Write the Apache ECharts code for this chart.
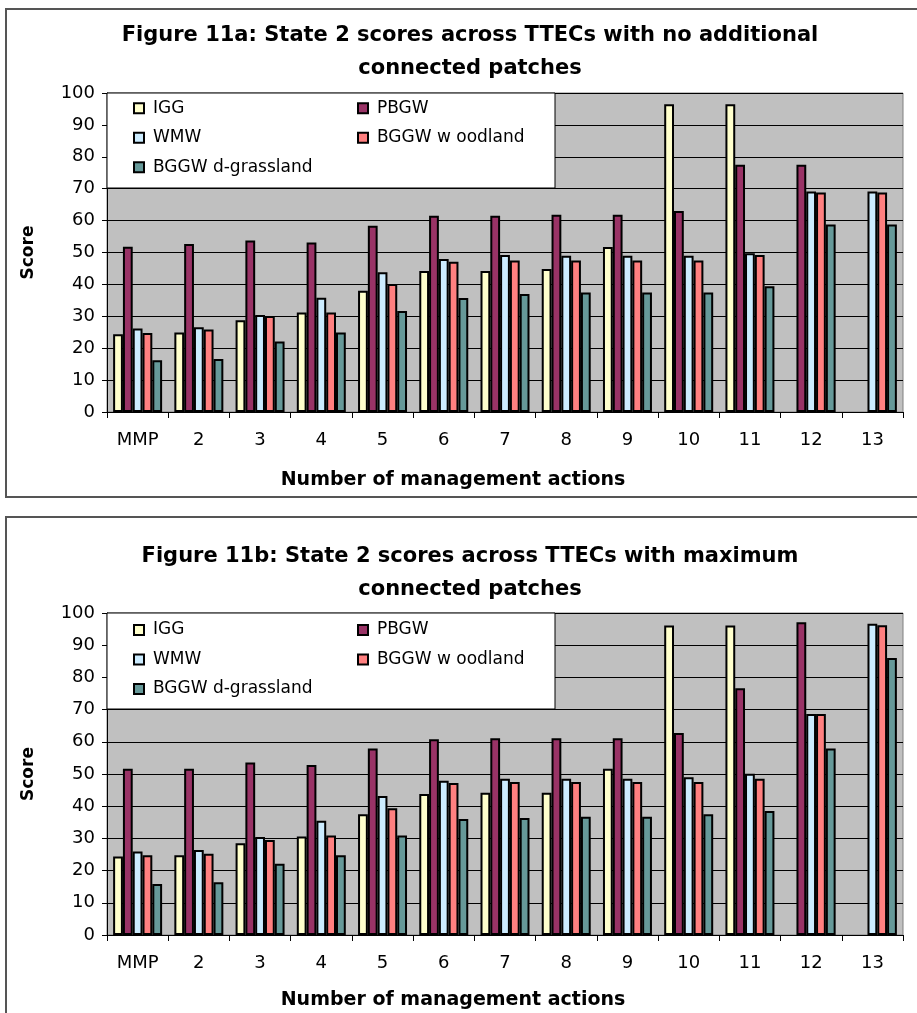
<!DOCTYPE html>
<html>
<head>
<meta charset="utf-8">
<script src="https://cdn.jsdelivr.net/npm/echarts@6/dist/echarts.min.js"></script>
<style>
html,body{margin:0;padding:0;background:#fff;}
#chart{width:917px;height:1013px;}
</style>
</head>
<body>
<div id="chart"></div>
<script>
// ---- Data ----
const categories = ['MMP','2','3','4','5','6','7','8','9','10','11','12','13'];
const seriesNames = ['IGG','PBGW','WMW','BGGW w oodland','BGGW d-grassland'];
const seriesColors = ['#FFFFCC','#993366','#CCECFF','#FF8080','#669999'];

// Figure 11a: no additional connected patches
const iggA   = [24.4, 24.9, 28.8, 31.2, 38.0, 44.2, 44.2, 44.8, 51.7, 96.5, 96.5, null, null];
const pbgwA  = [51.8, 52.7, 53.8, 53.1, 58.4, 61.5, 61.5, 61.8, 61.8, 63.0, 77.5, 77.5, null];
const wmwA   = [26.2, 26.6, 30.4, 35.8, 43.8, 48.0, 49.2, 49.0, 49.0, 49.0, 49.8, 69.1, 69.1];
const woodA  = [24.8, 25.9, 30.1, 31.2, 40.1, 47.1, 47.5, 47.5, 47.5, 47.5, 49.2, 68.8, 68.8];
const grassA = [16.2, 16.6, 22.1, 24.9, 31.7, 35.7, 37.0, 37.5, 37.5, 37.5, 39.4, 58.8, 58.8];

// Figure 11b: maximum connected patches
const iggB   = [24.4, 24.8, 28.5, 30.6, 37.5, 43.8, 44.2, 44.2, 51.6, 96.1, 96.1, null, null];
const pbgwB  = [51.6, 51.6, 53.6, 52.8, 57.9, 60.8, 61.1, 61.1, 61.1, 62.7, 76.6, 97.1, null];
const wmwB   = [25.9, 26.4, 30.4, 35.5, 43.2, 47.9, 48.5, 48.5, 48.5, 49.0, 50.1, 68.6, 96.7];
const woodB  = [24.8, 25.2, 29.5, 30.9, 39.4, 47.2, 47.5, 47.5, 47.5, 47.5, 48.5, 68.6, 96.2];
const grassB = [15.8, 16.4, 22.1, 24.8, 30.9, 36.0, 36.3, 36.7, 36.7, 37.5, 38.5, 57.9, 86.0];

const titleA = 'Figure 11a: State 2 scores across TTECs with no additional\nconnected patches';
const titleB = 'Figure 11b: State 2 scores across TTECs with maximum\nconnected patches';
const xName = 'Number of management actions';
const yName = 'Score';

// ---- Build ----
const FONT = 'DejaVu Sans';
const chart = echarts.init(document.getElementById('chart'), null, {renderer:'canvas'});

const layouts = [
  {titleTop:19, gridTop:93, gridH:319, legTop:93, legH:95, xNameGap:59},
  {titleTop:540, gridTop:613, gridH:322, legTop:613, legH:96, xNameGap:56}
];
const dataSets = [[iggA,pbgwA,wmwA,woodA,grassA],[iggB,pbgwB,wmwB,woodB,grassB]];

const grids = [], xAxes = [], yAxes = [], series = [], titles = [], legends = [], graphics = [];
layouts.forEach((L, gi) => {
  titles.push({
    text: gi === 0 ? titleA : titleB,
    left: 470, top: L.titleTop, textAlign: 'center', padding: 0,
    textStyle: {fontFamily: FONT, fontWeight: 'bold', fontSize: 21, lineHeight: 33, color: '#000'}
  });
  grids.push({
    left: 107, top: L.gridTop, width: 796, height: L.gridH,
    show: true, backgroundColor: '#C0C0C0', borderColor: '#808080', borderWidth: 1,
    containLabel: false, outerBoundsMode: 'none'
  });
  xAxes.push({
    type: 'category', gridIndex: gi, data: categories,
    name: xName, nameLocation: 'middle', nameGap: L.xNameGap,
    nameTextStyle: {fontFamily: FONT, fontWeight: 'bold', fontSize: 19, color: '#000', padding: [0, 104, 0, 0]},
    axisLine: {lineStyle: {color: '#000', width: 1}},
    axisTick: {show: true, length: 6, interval: 0, lineStyle: {color: '#000'}},
    axisLabel: {fontFamily: FONT, fontSize: 18, color: '#000', margin: 19, interval: 0},
    splitLine: {show: false}
  });
  yAxes.push({
    type: 'value', gridIndex: gi, min: 0, max: 100, interval: 10,
    name: yName, nameLocation: 'middle', nameRotate: 90, nameGap: 70,
    nameTextStyle: {fontFamily: FONT, fontWeight: 'bold', fontSize: 17, color: '#000'},
    axisLine: {show: true, lineStyle: {color: '#000', width: 1}},
    axisTick: {show: true, length: 5, lineStyle: {color: '#000'}},
    axisLabel: {fontFamily: FONT, fontSize: 18, color: '#000', margin: 12},
    splitLine: {show: true, lineStyle: {color: '#000', width: 1}}
  });
  dataSets[gi].forEach((arr, si) => {
    series.push({
      type: 'bar', name: seriesNames[si], xAxisIndex: gi, yAxisIndex: gi,
      data: arr, barGap: '0%', barCategoryGap: '20%',
      itemStyle: {color: seriesColors[si], borderColor: '#000', borderWidth: 2},
      emphasis: {disabled: true}
    });
  });
  const centers = gi === 0 ? [108.3, 138.3, 167.3] : [630, 660, 689.5];
  const legCommon = {
    orient: 'vertical', padding: 0, itemGap: 11.5, itemWidth: 10, itemHeight: 10, icon: 'rect',
    selectedMode: false,
    itemStyle: {borderColor: '#000', borderWidth: 2},
    textStyle: {fontFamily: FONT, fontSize: 17, lineHeight: 18, color: '#000', padding: [0,0,0,4]}
  };
  legends.push(Object.assign({}, legCommon, {left: 133, top: centers[0] - 9, data: ['IGG','WMW','BGGW d-grassland']}));
  legends.push(Object.assign({}, legCommon, {left: 357, top: centers[0] - 9, data: ['PBGW','BGGW w oodland']}));
  graphics.push({
    type: 'rect', z: 3, shape: {x: 107, y: L.legTop, width: 448, height: L.legH},
    style: {fill: '#fff', stroke: '#000', lineWidth: 1}
  });
});
// chart frames
graphics.push({type:'rect', z: 0, shape:{x:6, y:9, width:920, height:488}, style:{fill:'none', stroke:'#555', lineWidth:2}});
graphics.push({type:'rect', z: 0, shape:{x:6, y:517, width:920, height:510}, style:{fill:'none', stroke:'#555', lineWidth:2}});

chart.setOption({
  animation: false,
  backgroundColor: '#fff',
  title: titles,
  legend: legends,
  grid: grids,
  xAxis: xAxes,
  yAxis: yAxes,
  series: series,
  graphic: graphics
});
</script>
</body>
</html>
